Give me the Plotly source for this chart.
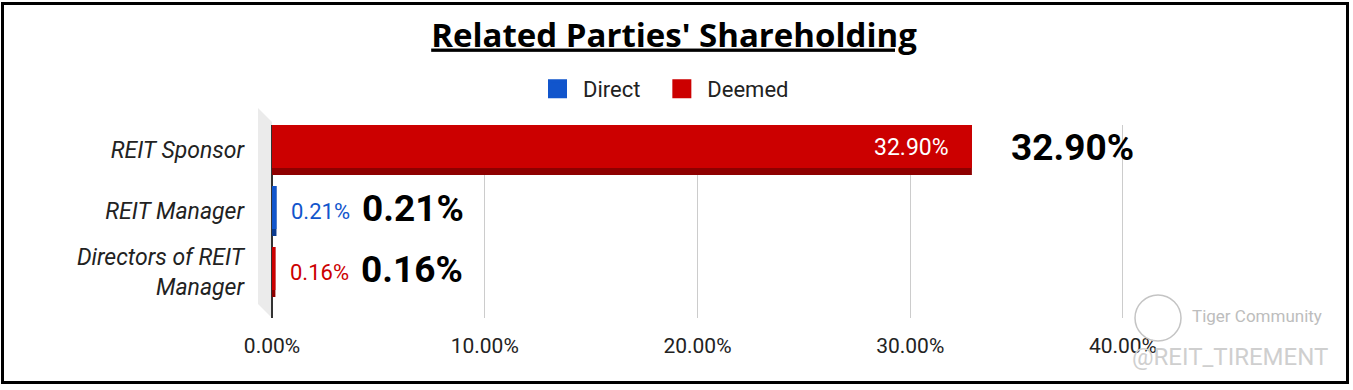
import plotly.graph_objects as go

categories = ["REIT Sponsor", "REIT Manager", "Directors of REIT<br>Manager"]
direct = [0.0, 0.21, 0.0]
deemed = [32.90, 0.0, 0.16]
x_ticks = [0, 10, 20, 30, 40]
x_tick_labels = ["0.00%", "10.00%", "20.00%", "30.00%", "40.00%"]

BLUE = "#1155cc"
RED = "#cc0000"
BLUE_DARK = "#0b3b8f"
RED_DARK = "#8e0000"

W, H = 1353, 390
L, R, T, B = 272, 1353 - 1124, 125, 390 - 318
PW, PH = W - L - R, H - T - B


def px(x):
    return (x - L) / PW


def py(y):
    return (H - B - y) / PH


# category 0 centred at y=150, spacing 61px in the reference
unit = 61
y_top = -(150 - 125) / unit
y_bot = 2 + (318 - 272) / unit
full_w = 50 / unit      # whole bar incl. darker bottom face
front_w = 43 / unit     # front face

fig = go.Figure()
deemed_base = direct
for nm, vals, base, col, dark in [("Direct", direct, [0] * len(direct), BLUE, BLUE_DARK),
                                  ("Deemed", deemed, deemed_base, RED, RED_DARK)]:
    fig.add_trace(go.Bar(y=categories, x=vals, base=base, orientation="h", marker_color=dark,
                         width=full_w, offset=-full_w / 2, name=nm, showlegend=False,
                         marker_line_width=0, hoverinfo="skip"))
    fig.add_trace(go.Bar(y=categories, x=vals, base=base, orientation="h", marker_color=col,
                         width=front_w, offset=-full_w / 2, name=nm, showlegend=False,
                         marker_line_width=0))
# legend markers
for nm, col in [("Direct\u00a0\u00a0", BLUE), ("Deemed", RED)]:
    fig.add_trace(go.Scatter(x=[None], y=[None], mode="markers", name=nm,
                             marker=dict(symbol="square", size=16, color=col,
                                         line=dict(color=col, width=3))))

annotations = []
for i, cat in enumerate(categories):
    total = direct[i] + deemed[i]
    if deemed[i] > 5:
        annotations.append(dict(x=deemed[i], y=cat, xref="x", yref="y", text=f"{deemed[i]:.2f}%",
                                showarrow=False, xanchor="right", xshift=-21, yshift=3,
                                font=dict(family="Roboto", size=23, color="white")))
        shift = 37
    else:
        val, col = (direct[i], BLUE) if direct[i] > 0 else (deemed[i], RED)
        annotations.append(dict(x=total, y=cat, xref="x", yref="y", text=f"{val:.2f}%",
                                showarrow=False, xanchor="left", xshift=13,
                                font=dict(family="Roboto", size=22, color=col)))
        shift = 84
    annotations.append(dict(x=total, y=cat, xref="x", yref="y", text=f"<b>{total:.2f}%</b>",
                            showarrow=False, xanchor="left", xshift=shift, yshift=3,
                            font=dict(family="Roboto", size=37, color="black")))

# watermark
annotations.append(dict(x=px(1190), y=py(316), xref="paper", yref="paper", text="Tiger Community",
                        showarrow=False, xanchor="left", yanchor="middle",
                        font=dict(family="Roboto", size=17, color="#bdbdbd")))
annotations.append(dict(x=px(1130), y=py(357), xref="paper", yref="paper", text="@REIT_TIREMENT",
                        showarrow=False, xanchor="left", yanchor="middle",
                        font=dict(family="Roboto", size=24, color="#cfcfcf")))

shapes = [
    dict(type="rect", xref="paper", yref="paper", x0=px(2.5), x1=px(1347.5), y0=py(3.5), y1=py(382.5),
         line=dict(color="black", width=3), layer="above"),
    dict(type="path", xref="paper", yref="paper",
         path=f"M {px(258)} {py(108)} L {px(272)} {py(122)} L {px(272)} {py(318)} L {px(258)} {py(304)} Z",
         fillcolor="#ebebeb", line=dict(width=0), layer="below"),
    dict(type="circle", xref="paper", yref="paper", x0=px(1135), x1=px(1181), y0=py(295), y1=py(341),
         line=dict(color="#c4c4c4", width=1.5), layer="above"),
]

fig.update_layout(
    width=W, height=H,
    margin=dict(l=L, r=R, t=T, b=B),
    paper_bgcolor="white", plot_bgcolor="white",
    barmode="overlay",
    title=dict(text="<b>Related Parties' Shareholding</b>", x=674 / W, xref="container",
               xanchor="center", y=1 - 35 / H, yanchor="middle",
               font=dict(family="Open Sans", size=33, color="black", lineposition="under")),
    legend=dict(orientation="h", x=532 / W, xref="container", xanchor="left",
                y=1 - 89 / H, yref="container", yanchor="middle", traceorder="normal",
                itemwidth=41,
                font=dict(family="Roboto", size=22, color="#222222")),
    xaxis=dict(range=[0, 40.05], tickvals=x_ticks, ticktext=x_tick_labels,
               showgrid=True, gridcolor="#cccccc", gridwidth=1, zeroline=True, zerolinecolor="#333333",
               zerolinewidth=1.5, showline=False, ticks="", ticklabelstandoff=13,
               tickfont=dict(family="Roboto", size=21, color="#222222")),
    yaxis=dict(range=[y_bot, y_top], showgrid=False, ticks="", ticklabelstandoff=27,
               tickfont=dict(family="Roboto", size=23, color="#222222", style="italic")),
    annotations=annotations,
    shapes=shapes,
)

fig.write_html("out.html", config={"displayModeBar": False},
               post_script="document.body.style.margin='0';")
